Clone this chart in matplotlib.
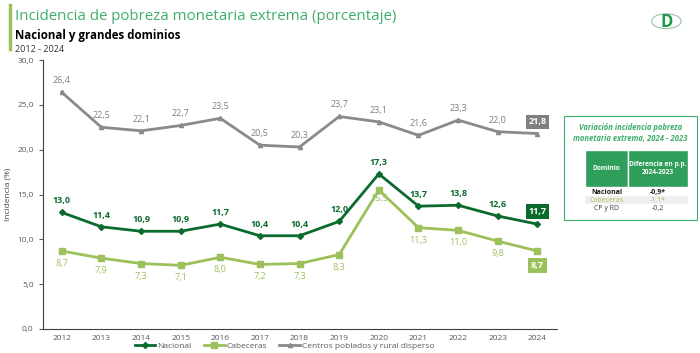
import matplotlib
matplotlib.use('Agg')
import matplotlib.pyplot as plt
from matplotlib.patches import Rectangle, Circle
from matplotlib.lines import Line2D

years = list(range(2012, 2025))
nacional = [13.0, 11.4, 10.9, 10.9, 11.7, 10.4, 10.4, 12.0, 17.3, 13.7, 13.8, 12.6, 11.7]
cabeceras = [8.7, 7.9, 7.3, 7.1, 8.0, 7.2, 7.3, 8.3, 15.5, 11.3, 11.0, 9.8, 8.7]
centros = [26.4, 22.5, 22.1, 22.7, 23.5, 20.5, 20.3, 23.7, 23.1, 21.6, 23.3, 22.0, 21.8]
yticks = [0, 5, 10, 15, 20, 25, 30]

dominios = ['Nacional', 'Cabeceras', 'CP y RD']
diferencias = ['-0,9*', '-1,1*', '-0,2']

c_nac = '#0B6B2E'
c_cab = '#9CC05A'
c_cp = '#8A8A8A'
c_title = '#3FAE6B'


def fmt(v):
    return f'{v:.1f}'.replace('.', ',')


plt.rcParams['font.family'] = ['Open Sans', 'DejaVu Sans']

fig = plt.figure(figsize=(7, 3.53), dpi=100)
ax = fig.add_axes([0.061, 0.068, 0.735, 0.762])

ax.plot(years, nacional, color=c_nac, lw=2, marker='D', ms=3, label='Nacional')
ax.plot(years, cabeceras, color=c_cab, lw=2, marker='s', ms=4, label='Cabeceras')
ax.plot(years, centros, color=c_cp, lw=2, marker='^', ms=3, label='Centros poblados y rural disperso')

fs = 6.5
for i, (x, v) in enumerate(zip(years, nacional)):
    if i == len(years) - 1:
        ax.text(x, v + 1.4, fmt(v), ha='center', va='center', fontsize=fs, color='white',
                fontweight='bold', bbox=dict(boxstyle='square,pad=0.3', fc=c_nac, ec='none'))
    else:
        ax.text(x, v + 1.3, fmt(v), ha='center', va='center', fontsize=fs, color=c_nac, fontweight='bold')

for i, (x, v) in enumerate(zip(years, cabeceras)):
    if i == len(years) - 1:
        ax.text(x, v - 1.6, fmt(v), ha='center', va='center', fontsize=fs, color='white',
                fontweight='bold', bbox=dict(boxstyle='square,pad=0.3', fc=c_cab, ec='none'))
    elif years[i] == 2020:
        ax.text(x, v - 1.0, fmt(v), ha='center', va='center', fontsize=fs, color=c_cab)
    else:
        ax.text(x, v - 1.4, fmt(v), ha='center', va='center', fontsize=fs, color=c_cab)

for i, (x, v) in enumerate(zip(years, centros)):
    if i == len(years) - 1:
        ax.text(x, v + 1.3, fmt(v), ha='center', va='center', fontsize=fs, color='white',
                fontweight='bold', bbox=dict(boxstyle='square,pad=0.3', fc='#7F7F7F', ec='none'))
    else:
        ax.text(x, v + 1.3, fmt(v), ha='center', va='center', fontsize=fs, color='#7F7F7F')

ax.set_xlim(2011.52, 2024.5)
ax.set_ylim(0, 30)
ax.set_xticks(years)
ax.set_xticklabels([str(y) for y in years])
ax.set_yticks(yticks)
ax.set_yticklabels([fmt(v) for v in yticks])
ax.tick_params(axis='both', labelsize=6, colors='#595959', length=3)
ax.tick_params(axis='x', length=0, pad=4)
ax.spines['top'].set_visible(False)
ax.spines['right'].set_visible(False)
ax.spines['left'].set_color('#404040')
ax.spines['bottom'].set_color('#404040')
ax.set_ylabel('Incidencia (%)', fontsize=6, color='#404040')

leg = ax.legend(loc='upper center', bbox_to_anchor=(0.47, -0.05), ncol=3, frameon=False,
                fontsize=6, handlelength=2.5, columnspacing=1.5, handletextpad=0.2,
                borderpad=0, borderaxespad=0)
for t in leg.get_texts():
    t.set_color('#595959')

# titles
fig.text(0.021, 0.975, 'Incidencia de pobreza monetaria extrema (porcentaje)', fontsize=10.8,
         color=c_title, va='top')
fig.text(0.021, 0.918, 'Nacional y grandes dominios', fontsize=8.3, fontweight='bold',
         color='black', va='top')
fig.text(0.021, 0.872, '2012 - 2024', fontsize=6.5, color='#333333', va='top')
fig.add_artist(Line2D([0.014, 0.014], [0.86, 0.985], color=c_cab, lw=2.5, transform=fig.transFigure))

# logo
fig.add_artist(Circle((0.952, 0.94), 0.021, transform=fig.transFigure, fill=False,
                      ec='#9BBFA8', lw=0.8))
fig.text(0.952, 0.938, 'D', fontsize=12, fontweight='bold', color='#1B9A4A', ha='center', va='center')

# side table
bx, by, bw, bh = 0.806, 0.377, 0.190, 0.294
fig.add_artist(Rectangle((bx, by), bw, bh, transform=fig.transFigure, fill=False,
                         ec='#3FAE6B', lw=0.8))
fig.text(bx + bw / 2, by + bh - 0.048, 'Variación incidencia pobreza\nmonetaria extrema, 2024 - 2023',
         fontsize=5.5, color=c_title, fontweight='bold', style='italic', ha='center', va='center',
         linespacing=1.3)
hx, hy, hw, hw2, hh = 0.836, 0.470, 0.061, 0.086, 0.105
fig.add_artist(Rectangle((hx, hy), hw, hh, transform=fig.transFigure, fc='#2E9E5A', ec='white', lw=1))
fig.add_artist(Rectangle((hx + hw, hy), hw2, hh, transform=fig.transFigure, fc='#2E9E5A', ec='white', lw=1))
fig.text(hx + hw / 2, hy + hh / 2, 'Dominio', fontsize=4.8, color='white', fontweight='bold',
         ha='center', va='center')
fig.text(hx + hw + hw2 / 2, hy + hh / 2, 'Diferencia en p.p.\n2024-2023', fontsize=4.8, color='white',
         fontweight='bold', ha='center', va='center')
row_colors = ['#1A1A1A', c_cab, '#404040']
row_weights = ['bold', 'normal', 'normal']
fig.add_artist(Rectangle((hx, 0.422), hw + hw2, 0.022, transform=fig.transFigure,
                         fc='#F0F0F0', ec='none'))
for k, (d, v) in enumerate(zip(dominios, diferencias)):
    yy = 0.456 - k * 0.023
    fig.text(hx + hw / 2, yy, d, fontsize=5, color=row_colors[k], fontweight=row_weights[k],
             ha='center', va='center')
    fig.text(hx + hw + hw2 / 2, yy, v, fontsize=5, color=row_colors[k], fontweight=row_weights[k],
             ha='center', va='center')

fig.savefig('out.png', dpi=100)
